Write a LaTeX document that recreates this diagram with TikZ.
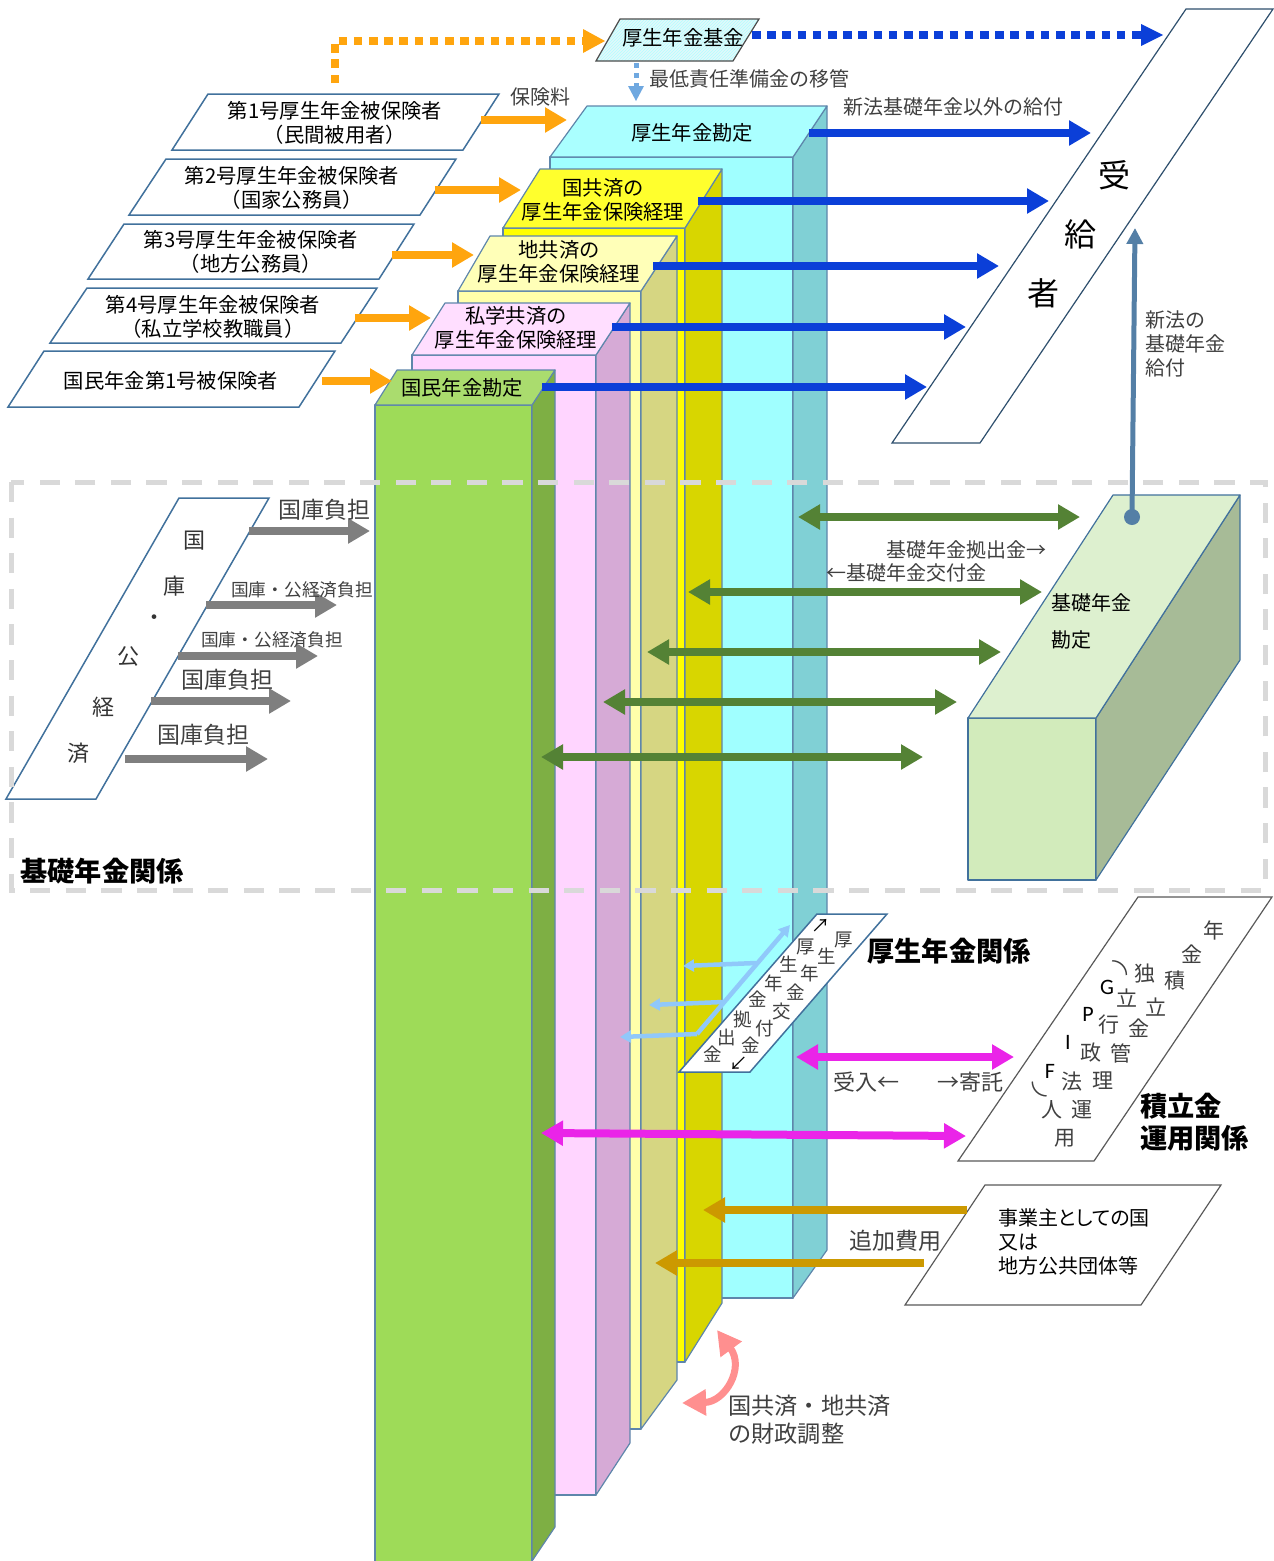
\documentclass[tikz,border=0pt]{standalone}
\usepackage{fontspec}
\setmainfont{Noto Sans CJK JP}
\newfontfamily\gpiffont{Carlito}
\usetikzlibrary{arrows.meta}
\usetikzlibrary{patterns}
\usetikzlibrary{calc}
\definecolor{edgeblue}{HTML}{41719C}
\definecolor{orangeline}{HTML}{FFA50E}
\definecolor{blueline}{HTML}{0B3FD8}
\definecolor{greenline}{HTML}{548235}
\definecolor{greyline}{HTML}{7F7F7F}
\definecolor{magentaline}{HTML}{EA24E8}
\definecolor{goldline}{HTML}{CC9900}
\definecolor{skyline}{HTML}{90C8FA}
\definecolor{moveline}{HTML}{6FA8E0}
\definecolor{salmonline}{HTML}{FF8F8F}
\definecolor{labgrey}{HTML}{404040}
\definecolor{framegrey}{HTML}{D9D9D9}
\definecolor{cyanfront}{HTML}{A0FFFF}
\definecolor{cyanside}{HTML}{80D0D5}
\definecolor{cyantop}{HTML}{AAFFFF}
\definecolor{yelfront}{HTML}{FFFF00}
\definecolor{yelside}{HTML}{D8D600}
\definecolor{yeltop}{HTML}{FFFF2D}
\definecolor{paleyfront}{HTML}{FFFFAA}
\definecolor{paleyside}{HTML}{D6D682}
\definecolor{paleytop}{HTML}{FFFFB8}
\definecolor{pinkfront}{HTML}{FFD5FF}
\definecolor{pinkside}{HTML}{D6AAD6}
\definecolor{pinktop}{HTML}{FFDEFF}
\definecolor{grnfront}{HTML}{9EDB58}
\definecolor{grnside}{HTML}{7EAF44}
\definecolor{grntop}{HTML}{AADC6E}
\definecolor{basicfront}{HTML}{D2EBBB}
\definecolor{basicside}{HTML}{A7BB97}
\definecolor{basictop}{HTML}{DDF0CF}
\definecolor{fundfill}{HTML}{E2F8FA}
\tikzset{
  para/.style={draw=edgeblue, fill=white, line width=1.5pt, line join=miter},
  slab/.style={draw=black!65, fill=white, line width=1.2pt},
  face/.style={draw=edgeblue!85, line width=1.2pt, line join=round},
  lab/.style={inner sep=0pt, align=center, font=\fontsize{20.3}{24}\selectfont},
  leftlab/.style={inner sep=0pt, align=left, font=\fontsize{20}{24}\selectfont},
  greylab/.style={inner sep=0pt, align=left, text=labgrey, font=\fontsize{20}{24}\selectfont},
  bigchar/.style={inner sep=0pt, text=black!80, font=\fontsize{22}{24}\selectfont},
  smallchar/.style={inner sep=0pt, text=labgrey, font=\fontsize{18.5}{20}\selectfont},
  fundchar/.style={inner sep=0pt, text=labgrey, font=\fontsize{21}{22}\selectfont},
  gpifchar/.style={inner sep=0pt, font=\gpiffont\fontsize{22}{22}\selectfont},
  titlelab/.style={inner sep=0pt, align=left, font=\fontsize{27.2}{32}\selectfont\bfseries},
  orangearrow/.style={orangeline, line width=8pt, -{Triangle[length=22pt,width=24pt]}},
  bluearrow/.style={blueline, line width=8pt, -{Triangle[length=22pt,width=24pt]}},
  greyarrow/.style={greyline, line width=8pt, -{Triangle[length=22pt,width=24pt]}},
  greenarrow/.style={greenline, line width=8pt, {Triangle[length=22pt,width=24pt]}-{Triangle[length=22pt,width=24pt]}},
  magentaarrow/.style={magentaline, line width=8pt, {Triangle[length=22pt,width=24pt]}-{Triangle[length=22pt,width=24pt]}},
  goldarrow/.style={goldline, line width=8pt, -{Triangle[length=22pt,width=24pt]}},
  skyarrow/.style={skyline, line width=4.5pt, -{Triangle[length=11pt,width=12pt]}},
  dotline/.style={line width=8pt, dash pattern=on 8.5pt off 6.7pt},
}

\begin{document}
\begin{tikzpicture}[x=1pt,y=-1pt]
\useasboundingbox (0,0) rectangle (1274,1561);

% columns, back to front
{
\draw[face, fill=cyanfront] (550,157) rectangle (793,1298);
\draw[face, fill=cyanside] (793,157)--(827,106)--(827,1250)--(793,1298)--cycle;
\draw[face, fill=cyantop] (550,157)--(587,106)--(827,106)--(793,157)--cycle;

\draw[face, fill=yelfront] (503,228) rectangle (685,1362);
\draw[face, fill=yelside] (685,228)--(722,169)--(722,1303)--(685,1362)--cycle;
\draw[face, fill=yeltop] (503,228)--(540,169)--(722,169)--(685,228)--cycle;

\draw[face, fill=paleyfront] (458,291) rectangle (641,1429);
\draw[face, fill=paleyside] (641,291)--(677,236)--(677,1380)--(641,1429)--cycle;
\draw[face, fill=paleytop] (458,291)--(490,236)--(677,236)--(641,291)--cycle;

\draw[face, fill=pinkfront] (412,355) rectangle (596,1495);
\draw[face, fill=pinkside] (596,355)--(630,303)--(630,1443)--(596,1495)--cycle;
\draw[face, fill=pinktop] (412,355)--(445,303)--(630,303)--(596,355)--cycle;

\draw[face, fill=grnfront] (375,405) rectangle (532,1570);
\draw[face, fill=grnside] (532,405)--(555,370)--(555,1527)--(532,1561)--cycle;
\draw[face, fill=grntop] (375,405)--(397,370)--(555,370)--(532,405)--cycle;
}

% insured persons
{
\draw[para] (208,94)--(499,94)--(463,150)--(172,150)--cycle;
\draw[para] (166,159)--(456,159)--(420,215)--(129,215)--cycle;
\draw[para] (124,224)--(414,224)--(379,279)--(88,279)--cycle;
\draw[para] (87,288)--(377,288)--(341,343)--(50,343)--cycle;
\draw[para] (44,351)--(335,351)--(299,407)--(8,407)--cycle;

\node[lab] (firstins) at (335,123) {第1号厚生年金被保険者\\（民間被用者）};
\node[lab] (secondins) at (292,188) {第2号厚生年金被保険者\\（国家公務員）};
\node[lab] (thirdins) at (251,252) {第3号厚生年金被保険者\\（地方公務員）};
\node[lab] (fourthins) at (213,317) {第4号厚生年金被保険者\\（私立学校教職員）};
\node[lab] (fifthins) at (171,381) {国民年金第1号被保険者};
}

% column heads
{
\node[lab] (koseihead) at (692,133) {厚生年金勘定};
\node[lab] (kokuhead) at (603,200) {国共済の\\厚生年金保険経理};
\node[lab] (chihead) at (559,262) {地共済の\\厚生年金保険経理};
\node[lab] (shihead) at (516,328) {私学共済の\\厚生年金保険経理};
\node[lab] (kokuminhead) at (462,388) {国民年金勘定};
}

% fund on top
{
\fill[fundfill] (620,19)--(759,19)--(733,61)--(596,61)--cycle;
\draw[draw=black!70, line width=1.2pt, pattern=north east lines, pattern color=cyan!30] (620,19)--(759,19)--(733,61)--(596,61)--cycle;
\node[lab] (fund) at (683,38) {厚生年金基金};
\coordinate (fundin0) at (335,83);
\coordinate (fundin1) at (335,41);
\coordinate (fundin2) at (605,41);
\coordinate (fundout0) at (752,35);
\coordinate (fundout1) at (1163,35);
\coordinate (fundmove0) at (636,63);
\coordinate (fundmove1) at (636,101);
\draw[orangeline, dotline] (fundin0)--(fundin1)--($(fundin2)+(-22,0)$);
\fill[orangeline] (fundin2)--++(-22,-12)--++(0,24)--cycle;
\draw[blueline, dotline] (fundout0)--($(fundout1)+(-22,0)$);
\fill[blueline] (fundout1)--++(-22,-11)--++(0,22)--cycle;
\draw[moveline, line width=5pt, dash pattern=on 5pt off 5pt] (fundmove0)--($(fundmove1)+(0,-14)$);
\fill[moveline] (fundmove1)--++(-8,-15)--++(16,0)--cycle;
\node[greylab] (movelab) at (749,79) {最低責任準備金の移管};
}

% premiums
{
\coordinate (pay1a) at (481,120);
\coordinate (pay1b) at (567,120);
\coordinate (pay2a) at (435,190);
\coordinate (pay2b) at (521,190);
\coordinate (pay3a) at (392,255);
\coordinate (pay3b) at (474,255);
\coordinate (pay4a) at (355,318);
\coordinate (pay4b) at (431,318);
\coordinate (pay5a) at (322,381);
\coordinate (pay5b) at (392,381);
\draw[orangearrow] (pay1a)--(pay1b);
\draw[orangearrow] (pay2a)--(pay2b);
\draw[orangearrow] (pay3a)--(pay3b);
\draw[orangearrow] (pay4a)--(pay4b);
\draw[orangearrow] (pay5a)--(pay5b);
\node[greylab] (premium) at (540,97) {保険料};
}

% recipients
{
\draw[slab, draw=edgeblue!70!black] (1186,9)--(1273,9)--(980,443)--(892,443)--cycle;
\node[inner sep=0pt, font=\fontsize{32}{34}\selectfont] (recv1) at (1114,175) {受};
\node[inner sep=0pt, font=\fontsize{32}{34}\selectfont] (recv2) at (1080,234) {給};
\node[inner sep=0pt, font=\fontsize{32}{34}\selectfont] (recv3) at (1043,293) {者};
\coordinate (ben1a) at (809,133);
\coordinate (ben1b) at (1091,133);
\coordinate (ben2a) at (698,201);
\coordinate (ben2b) at (1049,201);
\coordinate (ben3a) at (653,266);
\coordinate (ben3b) at (999,266);
\coordinate (ben4a) at (612,327);
\coordinate (ben4b) at (966,327);
\coordinate (ben5a) at (542,387);
\coordinate (ben5b) at (927,387);
\draw[bluearrow] (ben1a)--(ben1b);
\draw[bluearrow] (ben2a)--(ben2b);
\draw[bluearrow] (ben3a)--(ben3b);
\draw[bluearrow] (ben4a)--(ben4b);
\draw[bluearrow] (ben5a)--(ben5b);
\node[greylab] (benlab) at (953,107) {新法基礎年金以外の給付};
\node[greylab] (newlab) at (1185,344) {新法の\\基礎年金\\給付};
}

% basic pension account
{
\draw[face, draw=edgeblue, fill=basicfront] (968,718) rectangle (1096,880);
\draw[face, draw=edgeblue, fill=basicside] (1096,718)--(1240,495)--(1240,660)--(1096,880)--cycle;
\draw[face, draw=edgeblue, fill=basictop] (968,718)--(1113,495)--(1240,495)--(1096,718)--cycle;
\node[leftlab, anchor=west] (basic1) at (1051,603) {基礎年金};
\node[leftlab, anchor=west] (basic2) at (1051,640) {勘定};
\coordinate (dot) at (1132,517);
\coordinate (dottip) at (1135,228);
\draw[edgeblue!90!white, line width=5pt, -{Triangle[length=16pt,width=16pt]}] (dot)--(dottip);
\fill[edgeblue!90!white] (dot) circle [radius=8];

\coordinate (gr1a) at (798,517);
\coordinate (gr1b) at (1080,517);
\coordinate (gr2a) at (688,592);
\coordinate (gr2b) at (1042,592);
\coordinate (gr3a) at (647,652);
\coordinate (gr3b) at (1001,652);
\coordinate (gr4a) at (603,702);
\coordinate (gr4b) at (957,702);
\coordinate (gr5a) at (541,757);
\coordinate (gr5b) at (923,757);
\draw[greenarrow] (gr1a)--(gr1b);
\draw[greenarrow] (gr2a)--(gr2b);
\draw[greenarrow] (gr3a)--(gr3b);
\draw[greenarrow] (gr4a)--(gr4b);
\draw[greenarrow] (gr5a)--(gr5b);
\node[greylab, anchor=east] (outlab) at (1047,550) {基礎年金拠出金→};
\node[greylab, anchor=west] (inlab) at (826,573) {←基礎年金交付金};
}

% state share
{
\draw[para] (179,498)--(269,498)--(96,799)--(6,799)--cycle;
\node[bigchar] (st1) at (194,541) {国};
\node[bigchar] (st2) at (174,586) {庫};
\node[bigchar] (st3) at (154,620) {・};
\node[bigchar] (st4) at (128,657) {公};
\node[bigchar] (st5) at (103,707) {経};
\node[bigchar] (st6) at (78,753) {済};
\coordinate (sh1a) at (249,531);
\coordinate (sh1b) at (370,531);
\coordinate (sh2a) at (206,605);
\coordinate (sh2b) at (337,605);
\coordinate (sh3a) at (178,656);
\coordinate (sh3b) at (318,656);
\coordinate (sh4a) at (151,701);
\coordinate (sh4b) at (291,701);
\coordinate (sh5a) at (125,759);
\coordinate (sh5b) at (268,759);
\draw[greyarrow] (sh1a)--(sh1b);
\draw[greyarrow] (sh2a)--(sh2b);
\draw[greyarrow] (sh3a)--(sh3b);
\draw[greyarrow] (sh4a)--(sh4b);
\draw[greyarrow] (sh5a)--(sh5b);
\node[inner sep=0pt, text=labgrey, font=\fontsize{23}{24}\selectfont] (shl1) at (324,510) {国庫負担};
\node[inner sep=0pt, text=labgrey, font=\fontsize{17.7}{20}\selectfont] (shl2) at (302,590) {国庫・公経済負担};
\node[inner sep=0pt, text=labgrey, font=\fontsize{17.7}{20}\selectfont] (shl3) at (272,640) {国庫・公経済負担};
\node[inner sep=0pt, text=labgrey, font=\fontsize{23}{24}\selectfont] (shl4) at (227,680) {国庫負担};
\node[inner sep=0pt, text=labgrey, font=\fontsize{23}{24}\selectfont] (shl5) at (203,735) {国庫負担};
\node[titlelab] (basictitle) at (102,871) {基礎年金関係};
}

% kosei contributions
{
\coordinate (sky1) at (790,925);
\coordinate (sky2) at (697,1034);
\coordinate (sky3) at (620,1037);
\coordinate (sky4a) at (756,963);
\coordinate (sky4b) at (683,966);
\coordinate (sky5a) at (723,1002);
\coordinate (sky5b) at (649,1005);
\draw[skyarrow] (sky4a)--(sky4b);
\draw[skyarrow] (sky5a)--(sky5b);
\draw[skyarrow] (sky2)--(sky3);
\draw[skyarrow] (sky2)--(sky1);

\draw[para] (817,914)--(887,914)--(750,1072)--(679,1072)--cycle;
\node[smallchar, text=black] (kr0) at (821,926) {↗};
\node[smallchar] (kr1) at (844,940) {厚};
\node[smallchar] (kr2) at (827,956) {生};
\node[smallchar] (kr3) at (810,973) {年};
\node[smallchar] (kr4) at (796,992) {金};
\node[smallchar] (kr5) at (782,1011) {交};
\node[smallchar] (kr6) at (765,1029) {付};
\node[smallchar] (kr7) at (751,1045) {金};
\node[smallchar, text=black] (kr8) at (739,1064) {↙};
\node[smallchar] (kl1) at (806,947) {厚};
\node[smallchar] (kl2) at (789,964) {生};
\node[smallchar] (kl3) at (774,983) {年};
\node[smallchar] (kl4) at (758,999) {金};
\node[smallchar] (kl5) at (743,1019) {拠};
\node[smallchar] (kl6) at (727,1038) {出};
\node[smallchar] (kl7) at (713,1054) {金};
\node[titlelab] (koseititle) at (949,951) {厚生年金関係};
}

% reserve fund management
{
\draw[slab] (1138,897)--(1272,897)--(1094,1161)--(958,1161)--cycle;
\node[fundchar] (gr1) at (1214,930) {年};
\node[fundchar] (gr2) at (1192,954) {金};
\node[fundchar] (gr3) at (1175,981) {積};
\node[fundchar] (gr4) at (1156,1007) {立};
\node[fundchar] (gr6) at (1139,1028) {金};
\node[fundchar] (gr7) at (1121,1053) {管};
\node[fundchar] (gr8) at (1103,1081) {理};
\node[fundchar] (gr9) at (1082,1110) {運};
\node[fundchar] (gr10) at (1065,1138) {用};
\node[fundchar] (gl1) at (1145,974) {独};
\node[fundchar] (gl2) at (1127,998) {立};
\node[fundchar] (gl3) at (1109,1025) {行};
\node[fundchar] (gl4) at (1091,1053) {政};
\node[fundchar] (gl5) at (1072,1082) {法};
\node[fundchar] (gl6) at (1052,1110) {人};
\node[gpifchar] (gp1) at (1107,987) {G};
\node[gpifchar] (gp2) at (1088,1014) {P};
\node[gpifchar] (gp3) at (1068,1042) {I};
\node[gpifchar] (gp4) at (1050,1071) {F};
\node[fundchar, rotate=45, font=\fontsize{22}{24}\selectfont] (par1) at (1126,962) {）};
\node[fundchar, rotate=45, font=\fontsize{22}{24}\selectfont] (par2) at (1033,1096) {（};
\node[titlelab, anchor=west] (fundtitle) at (1140,1122) {積立金\\運用関係};
\coordinate (mg1a) at (796,1057);
\coordinate (mg1b) at (1014,1057);
\coordinate (mg2a) at (541,1133);
\coordinate (mg2b) at (966,1136);
\draw[magentaarrow] (mg1a)--(mg1b);
\draw[magentaarrow] (mg2a)--(mg2b);
\node[greylab, font=\fontsize{22}{24}\selectfont] (accept) at (866,1082) {受入←};
\node[greylab, font=\fontsize{22}{24}\selectfont] (entrust) at (970,1082) {→寄託};
}

% employers
{
\draw[slab] (985,1185)--(1221,1185)--(1141,1305)--(905,1305)--cycle;
\node[leftlab, anchor=west, font=\fontsize{20}{24}\selectfont\addfontfeature{RawFeature=+palt}] (employer) at (998,1242) {事業主としての国\\又は\\地方公共団体等};
\coordinate (add1a) at (967,1210);
\coordinate (add1b) at (703,1210);
\coordinate (add2a) at (924,1263);
\coordinate (add2b) at (655,1263);
\draw[goldarrow] (add1a)--(add1b);
\draw[goldarrow] (add2a)--(add2b);
\node[greylab, font=\fontsize{23}{24}\selectfont] (extra) at (895,1241) {追加費用};
}

% financial adjustment
{
\coordinate (adjtop) at (717,1330);
\coordinate (adjbot) at (682,1403);
\draw[salmonline, line width=7pt, {Triangle[length=24pt,width=25pt]}-{Triangle[length=24pt,width=25pt]}] (adjtop) .. controls (745,1368) and (725,1402) .. (adjbot);
\node[greylab, anchor=west, font=\fontsize{23.2}{28}\selectfont] (adjust) at (728,1420) {国共済・地共済\\の財政調整};
}

% dashed frame over everything
\draw[framegrey, line width=5pt, dash pattern=on 20.2pt off 15.4pt] (11,482) rectangle (1265,890);

\end{tikzpicture}
\end{document}
